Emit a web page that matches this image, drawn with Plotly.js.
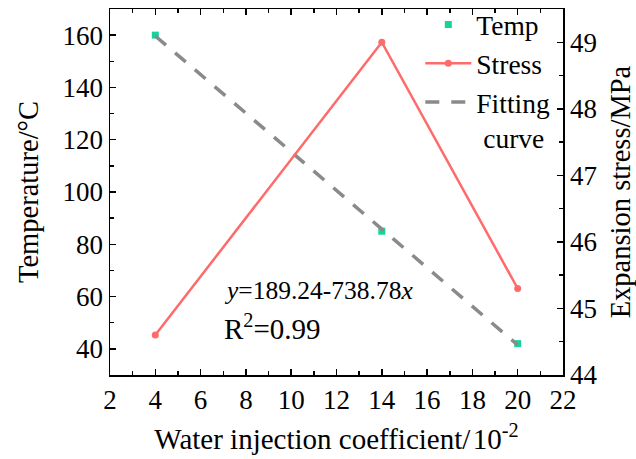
<!DOCTYPE html>
<html>
<head>
<meta charset="utf-8">
<script src="https://cdn.plot.ly/plotly-3.0.1.min.js"></script>
<style>
  html, body { margin: 0; padding: 0; background: #fff; }
  #chart { width: 636px; height: 459px; }
</style>
</head>
<body>
<div id="chart"></div>
<script>
// Water injection coefficient (x 10^-2)
const coefficient = [4, 14, 20];
// Temperature (°C), left axis
const temperature = [160, 85, 42];
// Expansion stress (MPa), right axis
const stress = [44.6, 49.0, 45.3];
// Linear fit stated on the chart: y = 189.24 - 738.78x (x as a fraction)
const fitIntercept = 189.24;
const fitSlope = -738.78;
const fitX = [4, 20];
const fitY = fitX.map(v => fitIntercept + fitSlope * v / 100);

const FONT = 'Times New Roman';
const TEAL = '#17d39b';
const RED = '#ff6a6a';
const GREY = '#8a8a8a';

const traces = [
  {
    x: coefficient, y: temperature, name: 'Temp', type: 'scatter', mode: 'markers',
    marker: { symbol: 'square', size: 7, color: TEAL }, yaxis: 'y'
  },
  {
    x: coefficient, y: stress, name: 'Stress', type: 'scatter', mode: 'lines+markers',
    line: { color: RED, width: 2.5 }, marker: { symbol: 'circle', size: 7, color: RED }, yaxis: 'y2'
  },
  {
    x: fitX, y: fitY, name: 'Fitting<br>\u00a0curve', type: 'scatter', mode: 'lines',
    line: { color: GREY, width: 3.5, dash: '14px,12px' }, yaxis: 'y'
  }
];

const axisCommon = {
  showgrid: false, zeroline: false, showline: true, linecolor: '#000', linewidth: 1.5,
  ticks: 'inside', tickcolor: '#000', tickwidth: 1.5, ticklen: 6,
  tickfont: { family: FONT, size: 27, color: '#000' }
};

const layout = {
  width: 636, height: 459,
  margin: { l: 110, r: 73, t: 0, b: 84 },
  paper_bgcolor: '#fff', plot_bgcolor: '#fff',
  font: { family: FONT, color: '#000' },
  showlegend: true,
  legend: {
    x: 0.685, y: 1.0, xanchor: 'left', yanchor: 'top', itemwidth: 46, valign: 'top',
    bgcolor: 'rgba(0,0,0,0)', font: { family: FONT, size: 27.5, color: '#000' },
    tracegroupgap: 0
  },
  xaxis: Object.assign({}, axisCommon, {
    range: [2, 22], dtick: 2, tick0: 0, mirror: 'ticks',
    minor: { dtick: 1, ticks: 'inside', ticklen: 4, tickcolor: '#000', tickwidth: 1.5 },
    title: { text: 'Water injection coefficient/\u200a10<sup>-2</sup>', font: { family: FONT, size: 29, color: '#000' }, standoff: 15 }
  }),
  yaxis: Object.assign({}, axisCommon, {
    range: [30, 170], dtick: 20, tick0: 0, domain: [0, 0.976],
    minor: { dtick: 10, ticks: 'inside', ticklen: 4, tickcolor: '#000', tickwidth: 1.5 },
    title: { text: 'Temperature/°C', font: { family: FONT, size: 28.5, color: '#000' }, standoff: 15 }
  }),
  yaxis2: Object.assign({}, axisCommon, {
    range: [44, 49.5], dtick: 1, tick0: 0, overlaying: 'y', side: 'right',
    minor: { dtick: 0.5, ticks: 'inside', ticklen: 4, tickcolor: '#000', tickwidth: 1.5 },
    title: { text: 'Expansion stress/MPa', font: { family: FONT, size: 28.5, color: '#000' }, standoff: 14 }
  }),
  annotations: [
    {
      xref: 'x', yref: 'y', x: 6.95, y: 62.3, xanchor: 'left', yanchor: 'middle', showarrow: false,
      text: '<i>y</i>=189.24-738.78<i>x</i>', font: { family: FONT, size: 25.5, color: '#000' }
    },
    {
      xref: 'x', yref: 'y', x: 6.95, y: 48.2, xanchor: 'left', yanchor: 'middle', showarrow: false,
      text: 'R<sup>2</sup>=0.99', font: { family: FONT, size: 29, color: '#000' }
    }
  ]
};

Plotly.newPlot('chart', traces, layout, { displayModeBar: false, staticPlot: true });
</script>
</body>
</html>
